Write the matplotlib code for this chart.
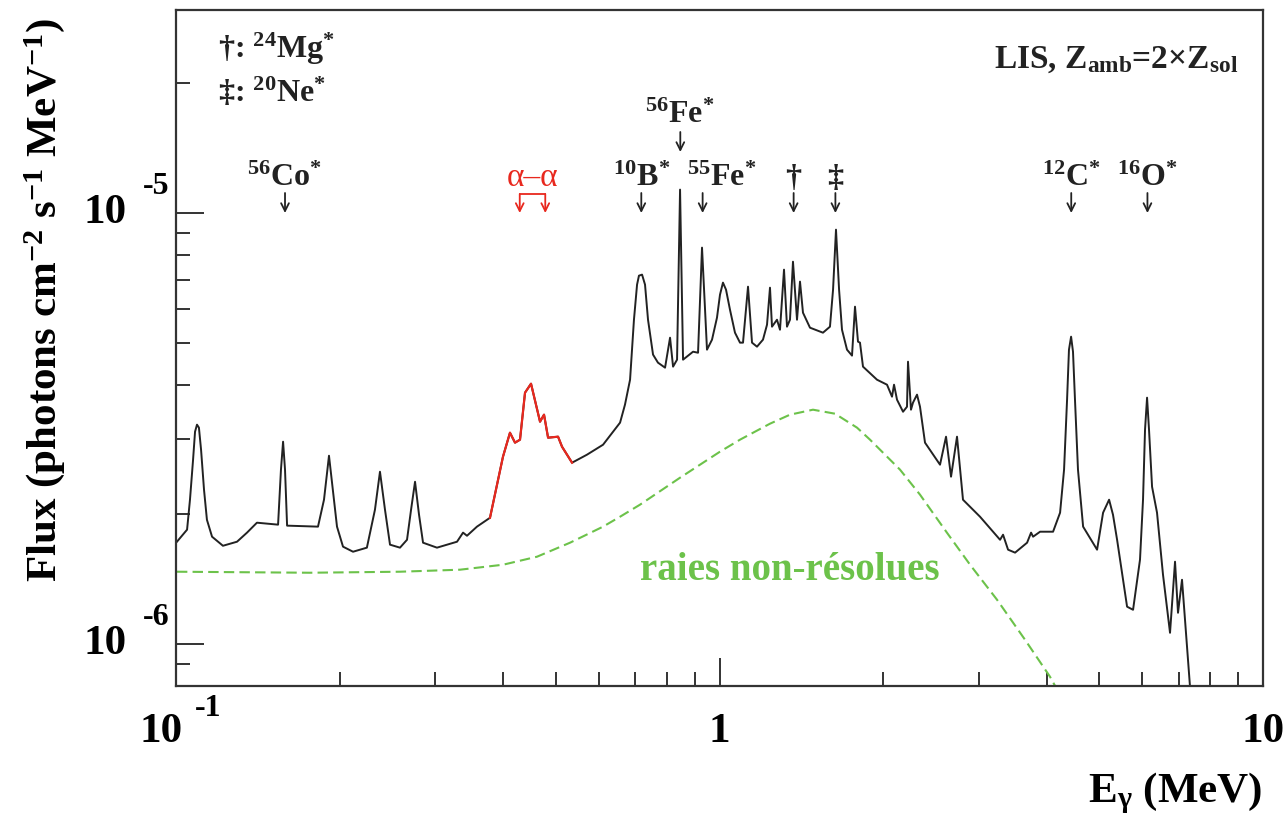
import numpy as np
import matplotlib
matplotlib.use('Agg')
import matplotlib.pyplot as plt
from matplotlib.ticker import LogLocator, NullFormatter

plt.rcParams['font.family'] = ['Liberation Serif', 'DejaVu Serif']
plt.rcParams['font.weight'] = 'bold'
plt.rcParams['mathtext.fontset'] = 'custom'
plt.rcParams['mathtext.rm'] = 'Liberation Serif:bold'
plt.rcParams['mathtext.it'] = 'Liberation Serif:italic:bold'
plt.rcParams['mathtext.bf'] = 'Liberation Serif:bold'

# total gamma-ray spectrum: energy (MeV), flux (1e-6 photons cm-2 s-1 MeV-1)
energy = [
    0.1004, 0.1048, 0.1061, 0.1075, 0.1084, 0.1093, 0.1102, 0.1112, 0.1126, 0.1140,
    0.1165, 0.1220, 0.1295, 0.1351, 0.1409, 0.1541, 0.1560, 0.1574, 0.1587, 0.1601,
    0.1825, 0.1872, 0.1912, 0.1953, 0.1978, 0.2029, 0.2117, 0.2245, 0.2323, 0.2373,
    0.2424, 0.2476, 0.2583, 0.2661, 0.2707, 0.2753, 0.2800, 0.2848, 0.3021, 0.3289,
    0.3374, 0.3431, 0.3579, 0.3782, 0.3996, 0.4116, 0.4205, 0.4295, 0.4387, 0.4500,
    0.4675, 0.4755, 0.4837, 0.5046, 0.5132, 0.5354, 0.5703, 0.6106, 0.6562, 0.6700,
    0.6846, 0.6960, 0.7052, 0.7109, 0.7203, 0.7294, 0.7387, 0.7546, 0.7705, 0.7940,
    0.8110, 0.8214, 0.8354, 0.8461, 0.8569, 0.8940, 0.9131, 0.9286, 0.9484, 0.9688,
    0.9894, 1.0021, 1.0148, 1.0280, 1.0454, 1.0678, 1.0907, 1.1047, 1.1284, 1.1477,
    1.1722, 1.2023, 1.2230, 1.2385, 1.2491, 1.2758, 1.2921, 1.3143, 1.3310, 1.3480,
    1.3652, 1.3887, 1.4064, 1.4243, 1.4672, 1.5501, 1.5968, 1.6178, 1.6381, 1.6596,
    1.6803, 1.7163, 1.7531, 1.7755, 1.7981, 1.8134, 1.8366, 1.9489, 2.0333, 2.0769,
    2.0947, 2.1213, 2.1763, 2.2131, 2.2225, 2.2507, 2.2699, 2.3090, 2.3384, 2.3885,
    2.5453, 2.6110, 2.6669, 2.7353, 2.8054, 3.0154, 3.2825, 3.3244, 3.3956, 3.4980,
    3.6807, 3.7434, 3.7754, 3.8891, 4.1090, 4.2329, 4.3049, 4.3601, 4.3954, 4.4350,
    4.4711, 4.5088, 4.5665, 4.6667, 4.9513, 5.0788, 5.2099, 5.2966, 5.3894, 5.6223,
    5.7667, 5.9388, 6.0151, 6.0665, 6.1190, 6.1698, 6.2500, 6.3826, 6.5464, 6.7442,
    6.8886, 6.9763, 7.0958, 7.1862, 7.3401, 7.45]
flux = [
    1.729, 1.844, 2.164, 2.680, 3.112, 3.231, 3.180, 2.827, 2.283, 1.944,
    1.776, 1.692, 1.729, 1.815, 1.914, 1.894, 2.541, 2.950, 2.541, 1.884,
    1.874, 2.164, 2.737, 2.164, 1.874, 1.684, 1.639, 1.675, 2.051, 2.513,
    2.051, 1.702, 1.675, 1.747, 2.051, 2.382, 1.997, 1.720, 1.675, 1.729,
    1.815, 1.785, 1.874, 1.965, 2.723, 3.095, 2.935, 2.982, 3.833, 4.021,
    3.283, 3.408, 3.014, 3.030, 2.872, 2.637, 2.752, 2.903, 3.266, 3.595,
    4.108, 5.660, 6.827, 7.161, 7.201, 6.827, 5.660, 4.697, 4.500, 4.381,
    5.142, 4.405, 4.572, 11.34, 4.572, 4.771, 4.745, 8.318, 4.823, 5.088,
    5.723, 6.470, 6.900, 6.645, 5.971, 5.281, 5.007, 5.007, 6.752, 5.007,
    4.901, 5.088, 5.511, 6.716, 5.453, 5.660, 5.365, 7.395, 5.453, 5.660,
    7.716, 5.660, 6.937, 5.876, 5.424, 5.281, 5.453, 6.645, 9.156, 6.645,
    5.365, 4.823, 4.672, 6.068, 5.034, 5.007, 4.405, 4.108, 4.000, 3.752,
    4.000, 3.692, 3.462, 3.556, 4.523, 3.500, 3.634, 3.793, 3.556, 2.935,
    2.609, 3.030, 2.447, 3.030, 2.164, 1.976, 1.747, 1.795, 1.657, 1.631,
    1.720, 1.815, 1.776, 1.824, 1.824, 2.019, 2.541, 3.692, 4.823, 5.170,
    4.771, 3.692, 2.541, 1.874, 1.657, 2.019, 2.164, 1.997, 1.747, 1.222,
    1.202, 1.571, 2.164, 3.146, 3.732, 3.146, 2.319, 2.019, 1.450, 1.063,
    1.554, 1.183, 1.411, 1.140, 0.797, 0.60]

# energy range of the alpha-alpha fusion lines (drawn in red)
alpha_band = (0.378, 0.536)
alpha_lines = [0.429, 0.478]

# unresolved lines component
unres_energy = [0.1004, 0.1764, 0.2583, 0.3331, 0.3996, 0.4616, 0.5309, 0.6106, 0.6562, 0.7139,
                0.8461, 1.0021, 1.0907, 1.2385, 1.3480, 1.4860, 1.6311, 1.7906, 1.8920, 2.1484,
                2.3384, 2.6206, 2.8907, 3.2411, 3.6491, 4.0551, 4.2329]
unres_flux = [1.473, 1.465, 1.473, 1.489, 1.529, 1.596, 1.720, 1.874, 1.976, 2.107,
              2.434, 2.797, 2.982, 3.248, 3.408, 3.500, 3.426, 3.180, 2.982, 2.541,
              2.223, 1.815, 1.529, 1.268, 1.024, 0.841, 0.763]

# labelled nuclear lines
line_names = [r'$^{56}$Co$^{*}$', r'$^{10}$B$^{*}$', r'$^{56}$Fe$^{*}$', r'$^{55}$Fe$^{*}$',
              '†', '‡', r'$^{12}$C$^{*}$', r'$^{16}$O$^{*}$']
line_energies = [0.1587, 0.718, 0.847, 0.931, 1.369, 1.634, 4.438, 6.129]

E = np.array(energy)
F = np.array(flux) * 1e-6

fig = plt.figure(figsize=(12.85, 8.27), dpi=100)
ax = fig.add_axes([176 / 1285, 1 - 686 / 827, 1087 / 1285, 676 / 827])
ax.set_xscale('log')
ax.set_yscale('log')
ax.set_xlim(0.1, 10)
ax.set_ylim(8e-7, 2.96e-5)

ax.plot(E, F, color='#222222', lw=1.4)
sel = (E >= alpha_band[0]) & (E <= alpha_band[1])
ax.plot(E[sel], F[sel], color='#e8281e', lw=1.6)
ax.plot(unres_energy, np.array(unres_flux) * 1e-6, color='#6cc24a', lw=1.5,
        linestyle=(0, (5, 2.5)))

ax.text(1.348, 1.411e-6, 'raies non-résolues', color='#6cc24a', fontsize=28,
        ha='center', va='baseline')

# axis styling: ticks inside, bottom/left only
for s in ax.spines.values():
    s.set_linewidth(1.6)
    s.set_color('#333333')
ax.xaxis.set_minor_locator(LogLocator(base=10, subs=np.arange(2, 10)))
ax.yaxis.set_minor_locator(LogLocator(base=10, subs=np.arange(2, 10)))
ax.xaxis.set_minor_formatter(NullFormatter())
ax.yaxis.set_minor_formatter(NullFormatter())
ax.tick_params(which='both', direction='in', top=False, right=False,
               labelbottom=False, labelleft=False, color='#333333', width=1.4)
ax.tick_params(which='major', length=20)
ax.tick_params(which='minor', length=10)

# tick labels in "10  -n" style
big, small = 31, 23
xc = ('data', 'axes fraction')
ax.annotate('10', xy=(0.1, 0), xycoords=xc, xytext=(7, -46), textcoords='offset pixels',
            ha='right', va='center', fontsize=big, annotation_clip=False)
ax.annotate('-1', xy=(0.1, 0), xycoords=xc, xytext=(19, -22), textcoords='offset pixels',
            ha='left', va='center', fontsize=small, annotation_clip=False)
ax.annotate('1', xy=(1, 0), xycoords=xc, xytext=(0, -46), textcoords='offset pixels',
            ha='center', va='center', fontsize=big, annotation_clip=False)
ax.annotate('10', xy=(10, 0), xycoords=xc, xytext=(0, -46), textcoords='offset pixels',
            ha='center', va='center', fontsize=big, annotation_clip=False)
yc = ('axes fraction', 'data')
for val, ex in [(1e-6, '-6'), (1e-5, '-5')]:
    ax.annotate('10', xy=(0, val), xycoords=yc, xytext=(-49, 0), textcoords='offset pixels',
                ha='right', va='center', fontsize=big, annotation_clip=False)
    ax.annotate(ex, xy=(0, val), xycoords=yc, xytext=(-33, 27), textcoords='offset pixels',
                ha='left', va='center', fontsize=small, annotation_clip=False)

fig.text(45 / 1285, 1 - 18 / 827, r'Flux (photons cm$^{-2}$ s$^{-1}$ MeV$^{-1}$)',
         rotation=90, ha='center', va='top', fontsize=31)
fig.text(1262 / 1285, 1 - 793 / 827, r'E$_{\mathrm{\gamma}}$ (MeV)', ha='right',
         va='center', fontsize=31)

# line markers with down arrows
def yax(py):
    return (686 - py) / 676

arrow = dict(arrowstyle='->', lw=1.3, color='#222222', shrinkA=0, shrinkB=0,
             mutation_scale=14)
for name, e in zip(line_names, line_energies):
    if name == r'$^{56}$Fe$^{*}$':
        ytxt, ytop, ybot = yax(123), yax(132), yax(152)
    else:
        ytxt, ytop, ybot = yax(186), yax(193), yax(213)
    dx = 19 if name == r'$^{55}$Fe$^{*}$' else 0
    ax.annotate(name, xy=(e, ytxt), xycoords=xc, xytext=(dx, 0), textcoords='offset pixels',
                ha='center', va='baseline', fontsize=23, color='#222222')
    ax.annotate('', xy=(e, ybot), xycoords=xc, xytext=(e, ytop), textcoords=xc,
                arrowprops=arrow)

# alpha-alpha bracket
red_arrow = dict(arrow, color='#e8281e')
ax.plot(alpha_lines, [yax(194)] * 2, color='#e8281e', lw=1.3,
        transform=ax.get_xaxis_transform())
for e in alpha_lines:
    ax.annotate('', xy=(e, yax(213)), xycoords=xc, xytext=(e, yax(194)), textcoords=xc,
                arrowprops=red_arrow)
ax.annotate('α–α', xy=(np.sqrt(alpha_lines[0] * alpha_lines[1]), yax(186)), xycoords=xc,
            ha='center', va='baseline', fontsize=24, color='#e8281e', fontweight='normal')

# key and model label
ax.text((218 - 176) / 1087, yax(58), r'†: $^{24}$Mg$^{*}$', transform=ax.transAxes,
        ha='left', va='baseline', fontsize=23, color='#222222')
ax.text((218 - 176) / 1087, yax(102), r'‡: $^{20}$Ne$^{*}$', transform=ax.transAxes,
        ha='left', va='baseline', fontsize=23, color='#222222')
ax.text((1238 - 176) / 1087, yax(68), r'LIS, Z$_{\mathrm{amb}}$=2×Z$_{\mathrm{sol}}$',
        transform=ax.transAxes, ha='right', va='baseline', fontsize=24, color='#222222')

fig.savefig('out.png', dpi=100)
